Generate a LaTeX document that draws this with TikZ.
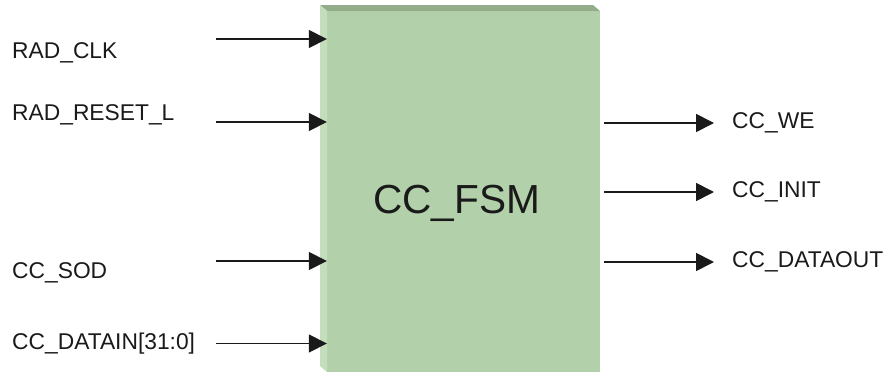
\documentclass[tikz,border=0pt]{standalone}
\usepackage{fontspec}
\setmainfont{Liberation Sans}
\usetikzlibrary{arrows.meta}
\definecolor{facegreen}{HTML}{B2D1AA}
\definecolor{topgreen}{HTML}{93AD8A}
\definecolor{sidegreen}{HTML}{C4DDBC}
\definecolor{ink}{HTML}{1A1A1A}
\begin{document}
\begin{tikzpicture}[x=1pt,y=-1pt,
  sig/.style={line width=1.7pt,draw=ink,-{Triangle[length=18pt,width=18pt]}},
  lbl/.style={anchor=base west,inner sep=0pt,text=ink,font=\fontsize{22.8}{27}\selectfont},
  title/.style={anchor=base,inner sep=0pt,text=ink,font=\fontsize{40.6}{46}\selectfont}]
\useasboundingbox (0,0) rectangle (887,372);
% box
\node[fill=facegreen,draw=none,minimum width=273pt,minimum height=361pt,inner sep=0pt] (fsm) at (463.5,191.5) {};
\fill[topgreen] (320,5) -- (593,5) -- (600,11) -- (327,11) -- cycle;
\fill[sidegreen] (320,5) -- (327,11) -- (327,372) -- (320,366) -- cycle;
\node[title] (fsmlbl) at (456.5,213) {CC\_FSM};
% inputs
\node[lbl] (clk) at (12,58) {RAD\_CLK};
\node[lbl] (rst) at (12,120) {RAD\_RESET\_L};
\node[lbl] (sod) at (12,278) {CC\_SOD};
\node[lbl] (din) at (12,349) {CC\_DATAIN[31:0]};
\coordinate (i1) at (216,39);
\coordinate (i2) at (216,122);
\coordinate (i3) at (216,261);
\coordinate (i4) at (216,343.5);
\draw[sig] (i1) -- (i1 -| fsm.west);
\draw[sig] (i2) -- (i2 -| fsm.west);
\draw[sig] (i3) -- (i3 -| fsm.west);
\draw[sig] (i4) -- (i4 -| fsm.west);
% outputs
\node[lbl] (we) at (732,128) {CC\_WE};
\node[lbl] (init) at (732,197) {CC\_INIT};
\node[lbl] (dout) at (732,267) {CC\_DATAOUT};
\coordinate (o1) at (604,123);
\coordinate (o2) at (604,192);
\coordinate (o3) at (604,262);
\coordinate (t1) at (714,123);
\coordinate (t2) at (714,192);
\coordinate (t3) at (714,262);
\draw[sig] (o1) -- (t1);
\draw[sig] (o2) -- (t2);
\draw[sig] (o3) -- (t3);
\end{tikzpicture}
\end{document}
